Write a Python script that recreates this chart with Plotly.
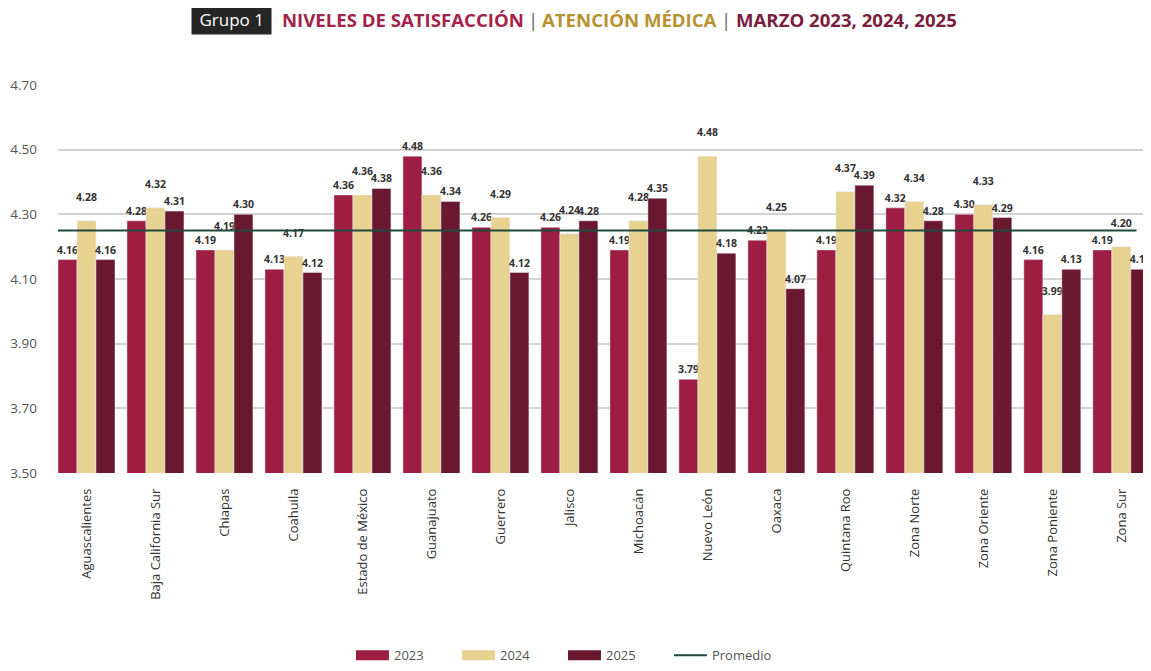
import plotly.graph_objects as go

categories = ["Aguascalientes", "Baja California Sur", "Chiapas", "Coahuila",
              "Estado de México", "Guanajuato", "Guerrero", "Jalisco", "Michoacán",
              "Nuevo León", "Oaxaca", "Quintana Roo", "Zona Norte", "Zona Oriente",
              "Zona Poniente", "Zona Sur"]
v2023 = [4.16, 4.28, 4.19, 4.13, 4.36, 4.48, 4.26, 4.26, 4.19, 3.79, 4.22, 4.19, 4.32, 4.30, 4.16, 4.19]
v2024 = [4.28, 4.32, 4.19, 4.17, 4.36, 4.36, 4.29, 4.24, 4.28, 4.48, 4.25, 4.37, 4.34, 4.33, 3.99, 4.20]
v2025 = [4.16, 4.31, 4.30, 4.12, 4.38, 4.34, 4.12, 4.28, 4.35, 4.18, 4.07, 4.39, 4.28, 4.29, 4.13, 4.13]
promedio = 4.25
y_ticks = [3.5, 3.7, 3.9, 4.1, 4.3, 4.5, 4.7]

series = [("2023", v2023, "#9E1D42", False), ("2024", v2024, "#E8D292", True),
          ("2025", v2025, "#6A1730", False)]

fig = go.Figure()
for name, vals, col, raised in series:
    labels = [f"{v:.2f}" + ("<br> " if raised else "") for v in vals]
    fig.add_trace(go.Bar(
        x=categories, y=vals, name=name, marker_color=col, legendgroup=name,
        showlegend=False,
        text=labels, textposition="outside",
        constraintext="none", cliponaxis=False,
        textfont=dict(family="Open Sans", size=10.5, color="#333333", weight="bold"),
    ))

# average line drawn on an overlaid category axis so it spans the plot like the original
fig.add_trace(go.Scatter(
    x=categories, y=[promedio] * len(categories), mode="lines", name="Promedio",
    line=dict(color="#1E4A3C", width=2), showlegend=False, legendgroup="Promedio",
    xaxis="x2",
))

# legend entries (wide swatches like the reference)
for name, vals, col, raised in series:
    fig.add_trace(go.Scatter(x=[None], y=[None], mode="lines", name=name, legendgroup=name,
                             line=dict(color=col, width=10), hoverinfo="skip"))
fig.add_trace(go.Scatter(x=[None], y=[None], mode="lines", name="Promedio", legendgroup="Promedio",
                         line=dict(color="#1E4A3C", width=2), hoverinfo="skip"))

fig.update_layout(
    width=1143, height=663,
    margin=dict(l=50, r=0, t=77, b=196),
    paper_bgcolor="white", plot_bgcolor="white",
    barmode="group", bargap=0.174, bargroupgap=0,
    font=dict(family="Open Sans", color="#444444"),
    showlegend=True,
    legend=dict(orientation="h", x=0.462, xanchor="center", y=-0.47, yanchor="middle",
                font=dict(size=13, color="#555555"), traceorder="normal",
                entrywidth=58, entrywidthmode="pixels", itemwidth=33),
    xaxis=dict(type="category", range=[-0.413, 15.43], tickangle=-90,
               tickfont=dict(size=13, color="#333333"), showgrid=False,
               showline=False, ticks="", ticklabelstandoff=12),
    xaxis2=dict(type="category", overlaying="x", range=[0, 15.2], visible=False),
    yaxis=dict(range=[3.5, 4.7], tickvals=y_ticks, ticktext=[f"{t:.2f}" for t in y_ticks],
               tickfont=dict(size=13.5, color="#555555"), showgrid=True,
               gridcolor="#D3D3D3", gridwidth=2, zeroline=False, showline=False,
               ticklabelstandoff=20),
)

title_y = (467 - 11) / 390
fig.add_annotation(
    xref="paper", yref="paper", x=(264 - 50) / 1093, y=title_y, xanchor="right", yanchor="middle",
    text="&nbsp;Grupo 1&nbsp;", showarrow=False, bgcolor="#262626",
    font=dict(family="Open Sans", size=17, color="white"), borderpad=3,
)
title_parts = [
    ("NIVELES DE SATISFACCIÓN", "#A3234B", "bold", 272),
    ("|", "#666666", "normal", 518),
    ("ATENCIÓN MÉDICA", "#B89230", "bold", 532),
    ("|", "#666666", "normal", 711),
    ("MARZO 2023, 2024, 2025", "#7A1E3E", "bold", 726),
]
for txt, col, wt, left in title_parts:
    fig.add_annotation(
        xref="paper", yref="paper", x=(left - 50) / 1093, y=title_y,
        xanchor="left", yanchor="middle", showarrow=False, text=txt,
        font=dict(family="Open Sans", size=18.6, color=col, weight=wt),
    )

fig.write_html("out.html")
